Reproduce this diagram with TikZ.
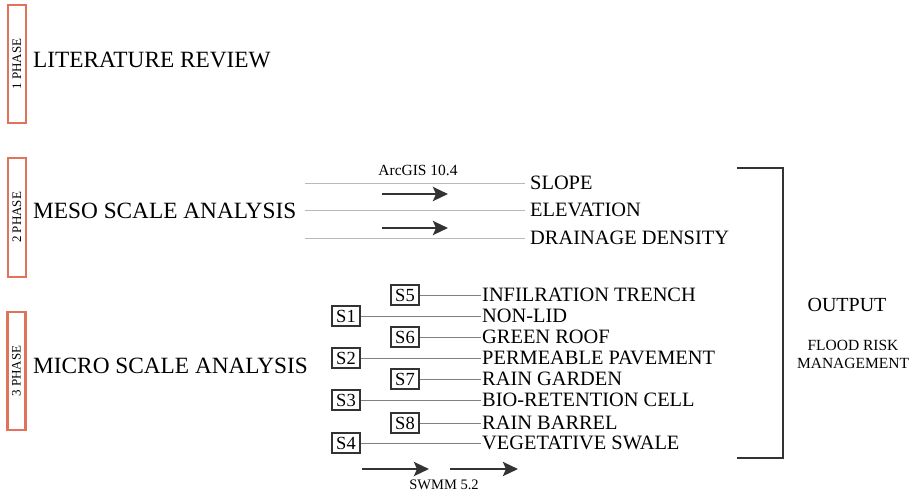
\documentclass[tikz,border=0pt]{standalone}
\usepackage{fontspec}
\setmainfont{Liberation Serif}
\usetikzlibrary{arrows.meta}
\definecolor{phaseorange}{HTML}{E0735A}
\definecolor{darkline}{HTML}{333333}

\tikzset{
  phasebox/.style={draw=phaseorange, line width=2.2pt, rotate=90, minimum width=118pt, minimum height=18pt, inner sep=0pt, font=\fontsize{13}{13}\selectfont},
  title/.style={anchor=west, inner sep=0pt, font=\fontsize{23.3}{26}\selectfont},
  item/.style={anchor=west, inner sep=0pt, font=\fontsize{20.4}{21}\selectfont},
  mesoitem/.style={item, inner xsep=5pt},
  sbox/.style={draw=darkline, line width=2pt, minimum width=28pt, minimum height=20pt, inner sep=0pt, font=\fontsize{18.5}{18}\selectfont},
  thinline/.style={draw=gray!55, line width=0.8pt},
  link/.style={draw=gray, line width=0.9pt},
  bigarrow/.style={darkline, line width=2.8pt, -{Stealth[length=15pt,width=14pt,inset=3pt]}},
  bracket/.style={darkline, line width=2.6pt},
}

\begin{document}
\begin{tikzpicture}[x=1pt,y=-1pt]
  \useasboundingbox (0,0) rectangle (917,496);

  % phases
  \node[phasebox] (p1) at (17,64) {1 PHASE};
  \node[phasebox, minimum width=119pt] (p2) at (17,217.5) {2 PHASE};
  \node[phasebox] (p3) at (16.5,371) {3 PHASE};
  \node[title] (lit) at (33,60) {LITERATURE REVIEW};
  \node[title] (meso) at (33,211) {MESO SCALE ANALYSIS};
  \node[title] (micro) at (33,366) {MICRO SCALE ANALYSIS};

  % meso scale
  \node[mesoitem] (slope) at (525,183) {SLOPE};
  \node[mesoitem] (elev) at (525,210) {ELEVATION};
  \node[mesoitem] (dd) at (525,238) {DRAINAGE DENSITY};
  \coordinate (m1) at (305,183);
  \coordinate (m2) at (305,210);
  \coordinate (m3) at (305,238);
  \draw[thinline] (m1) -- (slope.west);
  \draw[thinline] (m2) -- (elev.west);
  \draw[thinline] (m3) -- (dd.west);
  \node[font=\fontsize{15.5}{15}\selectfont] (arcgis) at (418,170) {ArcGIS 10.4};
  \draw[bigarrow] (382,194) -- (448,194);
  \draw[bigarrow] (382,228) -- (448,228);

  % micro scale
  \foreach \n/\x/\y/\t in {5/405/295/INFILRATION TRENCH, 1/346/316/NON-LID,
      6/405/337/GREEN ROOF, 2/346/358/PERMEABLE PAVEMENT, 7/405/379/RAIN GARDEN,
      3/346/400/BIO-RETENTION CELL, 8/405/423/RAIN BARREL, 4/346/443/VEGETATIVE SWALE}{
    \node[item, inner xsep=1pt] (l\n) at (481,\y) {\t};
    \node[sbox] (s\n) at (\x,\y) {S\n};
    \draw[link] (s\n.east) -- (l\n.west);
  }
  \draw[bigarrow] (362,469) -- (429,469);
  \draw[bigarrow] (450,469) -- (518,469);
  \node[font=\fontsize{14.5}{14}\selectfont] (swmm) at (444,485) {SWMM 5.2};

  % output
  \draw[bracket] (737,168) -- (783,168) -- (783,458) -- (737,458);
  \node[font=\fontsize{20}{20}\selectfont] (out) at (847,305) {OUTPUT};
  \node[align=center, font=\fontsize{15.5}{18}\selectfont] (flood) at (853,354) {FLOOD RISK\\MANAGEMENT};
\end{tikzpicture}
\end{document}
